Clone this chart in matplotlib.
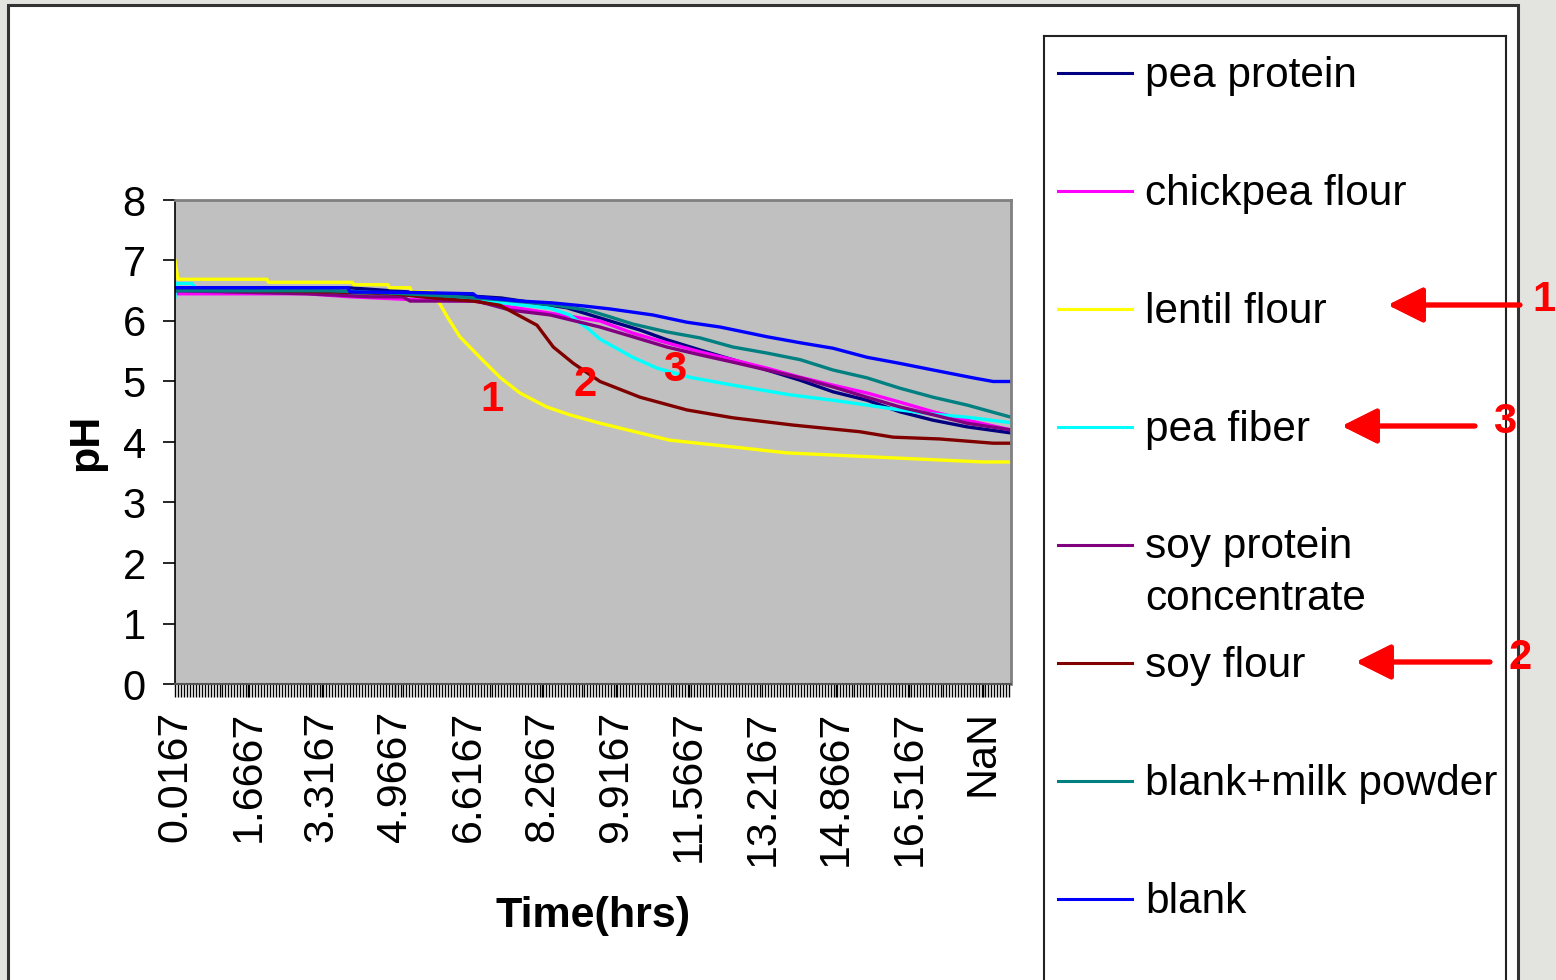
import matplotlib.pyplot as plt
from matplotlib.patches import Rectangle

plt.rcParams['font.family'] = ['Liberation Sans', 'DejaVu Sans']

# pH readings, one per minute; (minute index, pH) points for each sample
pea_protein = [(0, 6.55), (233, 6.55), (326, 6.47), (440, 6.38), (528, 6.22), (573, 6.05),
               (627, 5.85), (663, 5.69), (708, 5.52), (752, 5.36), (798, 5.19), (843, 5.02),
               (887, 4.83), (933, 4.69), (977, 4.5), (1022, 4.36), (1068, 4.25), (1127, 4.15)]
chickpea_flour = [(0, 6.52), (4, 6.45), (178, 6.45), (236, 6.4), (326, 6.35), (402, 6.33),
                  (469, 6.2), (573, 6.0), (617, 5.8), (663, 5.64), (708, 5.49), (752, 5.36),
                  (798, 5.22), (843, 5.07), (887, 4.94), (933, 4.81), (977, 4.66), (1022, 4.5),
                  (1068, 4.36), (1127, 4.2)]
lentil_flour = [(0, 7.0), (4, 6.69), (124, 6.69), (126, 6.64), (239, 6.64), (241, 6.6),
                (287, 6.6), (289, 6.55), (317, 6.55), (319, 6.48), (348, 6.48), (367, 6.07),
                (384, 5.74), (411, 5.4), (438, 5.07), (465, 4.81), (501, 4.58), (532, 4.45),
                (573, 4.31), (600, 4.23), (667, 4.03), (766, 3.9), (825, 3.82), (964, 3.74),
                (1089, 3.67), (1127, 3.67)]
pea_fiber = [(0, 6.4), (1, 6.62), (23, 6.62), (30, 6.5), (178, 6.48), (209, 6.47), (326, 6.42),
             (442, 6.3), (506, 6.21), (532, 6.1), (559, 5.85), (573, 5.7), (617, 5.4),
             (650, 5.22), (694, 5.07), (752, 4.94), (829, 4.78), (887, 4.69), (933, 4.61),
             (977, 4.53), (1022, 4.46), (1068, 4.41), (1127, 4.32)]
soy_protein_conc = [(0, 6.5), (178, 6.45), (263, 6.4), (307, 6.4), (317, 6.33), (407, 6.33),
                    (452, 6.18), (506, 6.1), (573, 5.9), (617, 5.74), (663, 5.57), (708, 5.44),
                    (752, 5.32), (798, 5.19), (843, 5.06), (887, 4.91), (933, 4.74), (977, 4.58),
                    (1022, 4.45), (1068, 4.31), (1127, 4.2)]
soy_flour = [(0, 6.52), (209, 6.48), (294, 6.45), (348, 6.38), (402, 6.33), (438, 6.26),
             (488, 5.93), (510, 5.57), (537, 5.3), (573, 5.0), (627, 4.74), (690, 4.53),
             (752, 4.4), (833, 4.28), (923, 4.17), (968, 4.08), (1031, 4.05), (1103, 3.98),
             (1127, 3.98)]
blank_milk = [(0, 6.5), (209, 6.5), (294, 6.46), (384, 6.4), (438, 6.35), (483, 6.3),
              (519, 6.25), (559, 6.17), (586, 6.07), (617, 5.95), (663, 5.82), (708, 5.72),
              (752, 5.57), (798, 5.47), (843, 5.36), (887, 5.19), (933, 5.06), (977, 4.89),
              (1022, 4.74), (1068, 4.61), (1127, 4.41)]
blank = [(0, 6.55), (233, 6.55), (236, 6.48), (326, 6.47), (402, 6.45), (407, 6.4), (465, 6.33),
         (508, 6.3), (550, 6.25), (586, 6.2), (644, 6.1), (690, 5.98), (735, 5.9), (798, 5.74),
         (843, 5.64), (887, 5.55), (933, 5.4), (977, 5.3), (1022, 5.19), (1076, 5.06),
         (1103, 5.0), (1127, 5.0)]

series = [pea_protein, chickpea_flour, lentil_flour, pea_fiber,
          soy_protein_conc, soy_flour, blank_milk, blank]
labels = ["pea protein", "chickpea flour", "lentil flour", "pea fiber",
          "soy protein\nconcentrate", "soy flour", "blank+milk powder", "blank"]
colors = ["#000080", "#FF00FF", "#FFFF00", "#00FFFF",
          "#800080", "#800000", "#008080", "#0000FF"]

n_points = 1128
time_labels = ["0.0167", "1.6667", "3.3167", "4.9667", "6.6167", "8.2667",
               "9.9167", "11.5667", "13.2167", "14.8667", "16.5167", "NaN"]
label_every = 99

# curve numbers written on the plot: (minute index, pH, text)
curve_marks = [(427, 4.69, "1"), (553, 4.94, "2"), (674, 5.19, "3")]

W, H = 1556, 980
fig = plt.figure(figsize=(W / 100, H / 100), dpi=100)
fig.patch.set_facecolor("#e3e3e0")

# white chart area with dark frame
fig.add_artist(Rectangle((8 / W, -0.05), 1510 / W, 1.05 - 5 / H, transform=fig.transFigure,
                         facecolor="white", edgecolor="#333333", lw=2.2, zorder=0))

ax = fig.add_axes([175 / W, 1 - 684 / H, 836 / W, 484 / H])
ax.set_facecolor("#c0c0c0")

for pts, lab, c in zip(series, labels, colors):
    xs = [p[0] for p in pts]
    ys = [p[1] for p in pts]
    ax.plot(xs, ys, color=c, lw=2.4, label=lab)

for x, y, t in curve_marks:
    ax.text(x, y, t, color="red", fontsize=30, fontweight="bold", ha="center", va="center")

ax.set_xlim(0, n_points - 1)
ax.set_ylim(0, 8)
ax.set_yticks(range(0, 9))
ax.tick_params(axis="y", labelsize=30, length=9, width=1.2, direction="out", pad=12)

ax.set_xticks([i * label_every for i in range(len(time_labels))])
ax.set_xticklabels(time_labels, rotation=90)
ax.set_xticks(range(0, n_points, 4), minor=True)
ax.tick_params(axis="x", which="both", labelsize=31, length=9, width=1, direction="out", pad=10)

for side in ["top", "right"]:
    ax.spines[side].set_color("#808080")
    ax.spines[side].set_linewidth(2)
ax.spines["left"].set_color("black")
ax.spines["bottom"].set_color("#555555")
ax.spines["left"].set_linewidth(1.2)
ax.spines["bottom"].set_linewidth(1.5)

ax.set_ylabel("pH", fontsize=31, fontweight="bold", labelpad=12)
ax.set_xlabel("Time(hrs)", fontsize=31, fontweight="bold", labelpad=22)

# legend panel on the right, cut off by the bottom of the chart
lg = fig.add_axes([1044 / W, -0.05, 462 / W, 1.05 - 36 / H])
lg.set_xlim(1044, 1506)
lg.set_ylim(980 + 0.05 * H, 36)
lg.set_xticks([])
lg.set_yticks([])
lg.set_facecolor("white")
for s in lg.spines.values():
    s.set_color("#222222")
    s.set_linewidth(1.5)

row_y = 73
for lab, c in zip(labels, colors):
    lg.plot([1058, 1132], [row_y, row_y], color=c, lw=2.2)
    nl = lab.count("\n")
    lg.text(1145, row_y + 3 + nl * 25, lab, fontsize=30.5, va="center", ha="left",
            linespacing=1.38)
    row_y += 118

# red arrows pointing at the legend entries
arrows = [(1520, 305, 1388, "1", 1544, 300),
          (1475, 426, 1342, "3", 1505, 422),
          (1490, 662, 1356, "2", 1520, 658)]
for x0, y0, x1, t, tx, ty in arrows:
    fig.add_artist(plt.annotate("", xy=(x1, H - y0), xytext=(x0, H - y0),
                                xycoords="figure pixels", textcoords="figure pixels",
                                arrowprops=dict(arrowstyle="-|>,head_length=1.0,head_width=0.5",
                                                mutation_scale=21.6, color="red", lw=3.5,
                                                shrinkA=0, shrinkB=0)))
    fig.text(tx / W, 1 - ty / H, t, color="red", fontsize=30, fontweight="bold",
             ha="center", va="center")

fig.savefig("out.png", dpi=100, facecolor=fig.get_facecolor())
